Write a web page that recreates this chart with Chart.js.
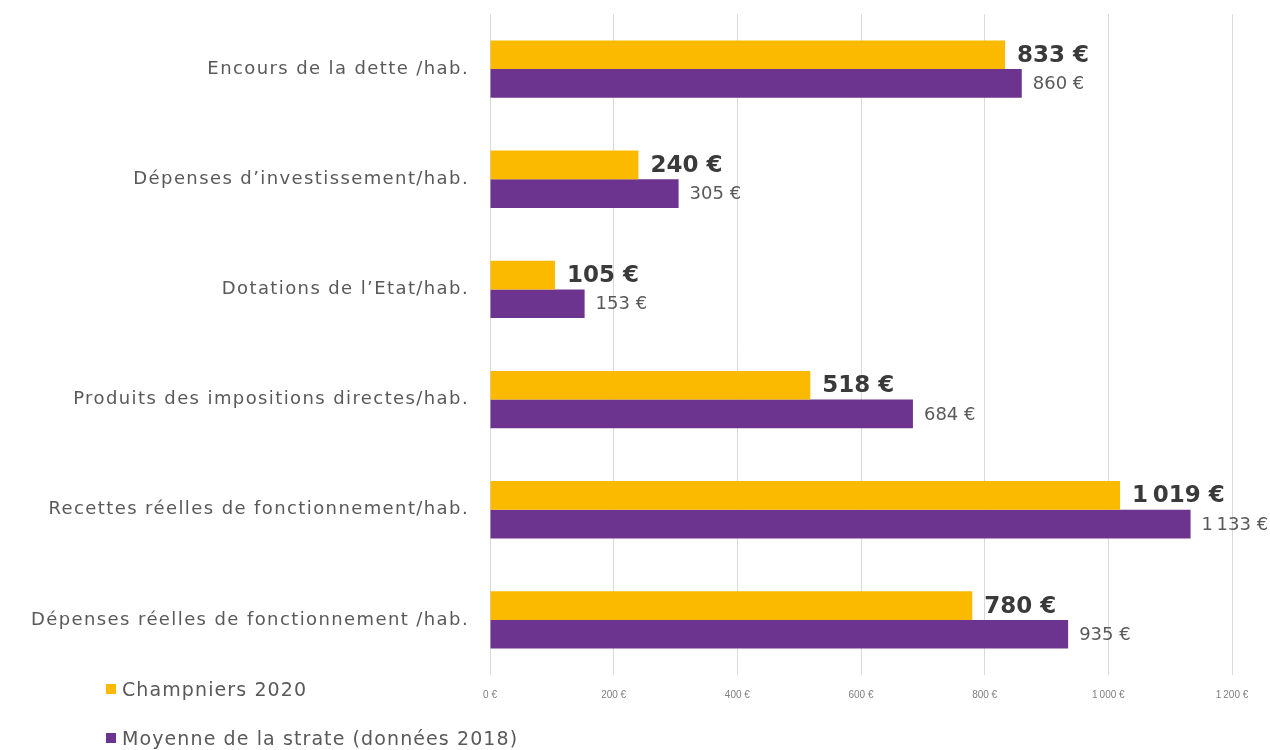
<!DOCTYPE html>
<html lang="fr">
<head>
<meta charset="utf-8">
<title>Ratios financiers</title>
<script src="https://cdn.jsdelivr.net/npm/chart.js@4.4.1/dist/chart.umd.min.js"></script>
<style>
  body { margin: 0; background: #fff; }
  #zone { position: relative; width: 1270px; height: 750px; }
  .legende {
    position: absolute;
    left: 106px;
    font-family: "DejaVu Sans", sans-serif;
    font-size: 19px;
    letter-spacing: 1.1px;
    color: #595959;
    white-space: nowrap;
  }
  .legende span {
    display: inline-block;
    width: 10px;
    height: 10px;
    margin-right: 6px;
    vertical-align: 2px;
  }
</style>
</head>
<body>
<div id="zone">
  <canvas id="ratios" width="1270" height="750"></canvas>
  <div class="legende" style="top:678px"><span style="background:#FBBA00"></span>Champniers 2020</div>
  <div class="legende" style="top:727px"><span style="background:#6C348E"></span>Moyenne de la strate (données 2018)</div>
</div>
<script>
const categories = [
  "Encours de la dette /hab.",
  "Dépenses d’investissement/hab.",
  "Dotations de l’Etat/hab.",
  "Produits des impositions directes/hab.",
  "Recettes réelles de fonctionnement/hab.",
  "Dépenses réelles de fonctionnement /hab.",
];
const champniers_2020 = [833, 240, 105, 518, 1019, 780];
const moyenne_strate = [860, 305, 153, 684, 1133, 935];
const ticks_x = [0, 200, 400, 600, 800, 1000, 1200];

// 1019 -> "1 019 €" (espace fine pour les milliers)
function euros(v) {
  return String(v).replace(/\B(?=(\d{3})+(?!\d))/g, "\u202F") + " €";
}

// etiquettes au bout des barres
const plugin_etiquettes = {
  id: "etiquettes",
  afterDatasetsDraw: (chart) => {
    const ctx = chart.ctx;
    ctx.save();
    ctx.textBaseline = "middle";
    ctx.textAlign = "left";
    chart.data.datasets.forEach((ds, i) => {
      const meta = chart.getDatasetMeta(i);
      meta.data.forEach((bar, j) => {
        if (i == 0) {
          ctx.font = "bold 23px 'DejaVu Sans', sans-serif";
          ctx.fillStyle = "#3a3a3a";
          ctx.fillText(euros(ds.data[j]), bar.x + 12, bar.y + 1);
        } else {
          ctx.font = "18px 'DejaVu Sans', sans-serif";
          ctx.fillStyle = "#595959";
          ctx.fillText(euros(ds.data[j]), bar.x + 11, bar.y + 1);
        }
      });
    });
    ctx.restore();
    // les libelles de l'axe y (ticks.z = 1) sont dessines apres : texte plus espace
    ctx.letterSpacing = "1.4px";
  },
  afterDraw: (chart) => {
    chart.ctx.letterSpacing = "0px";
  },
};

const ctx = document.getElementById("ratios").getContext("2d");
new Chart(ctx, {
  type: "bar",
  data: {
    labels: categories,
    datasets: [
      {
        label: "Champniers 2020",
        data: champniers_2020,
        backgroundColor: "#FBBA00",
      },
      {
        label: "Moyenne de la strate (données 2018)",
        data: moyenne_strate,
        backgroundColor: "#6C348E",
      },
    ],
  },
  options: {
    indexAxis: "y",
    responsive: false,
    animation: false,
    categoryPercentage: 0.52,
    barPercentage: 1,
    layout: {
      padding: { top: 14, right: 38, left: 0, bottom: 0 },
    },
    plugins: {
      legend: { display: false },
      tooltip: { enabled: false },
    },
    scales: {
      x: {
        min: 0,
        max: 1200,
        afterBuildTicks: (scale) => {
          scale.ticks = ticks_x.map((v) => ({ value: v }));
        },
        afterFit: (scale) => {
          scale.height = 75;
        },
        grid: {
          color: "#d9d9d9",
          tickLength: 0,
        },
        border: { display: false },
        ticks: {
          padding: 14,
          color: "#7f7f7f",
          font: { family: "'Liberation Sans Narrow', 'Liberation Sans', sans-serif", size: 10 },
          callback: (v) => euros(v),
        },
      },
      y: {
        afterFit: (scale) => {
          scale.width = 490;
          scale.paddingTop = 0;
          scale.paddingBottom = 0;
        },
        grid: { display: false, drawTicks: false },
        border: { display: false },
        ticks: {
          z: 1,
          padding: 21,
          color: "#595959",
          font: { family: "'DejaVu Sans', sans-serif", size: 18 },
        },
      },
    },
  },
  plugins: [plugin_etiquettes],
});
</script>
</body>
</html>
